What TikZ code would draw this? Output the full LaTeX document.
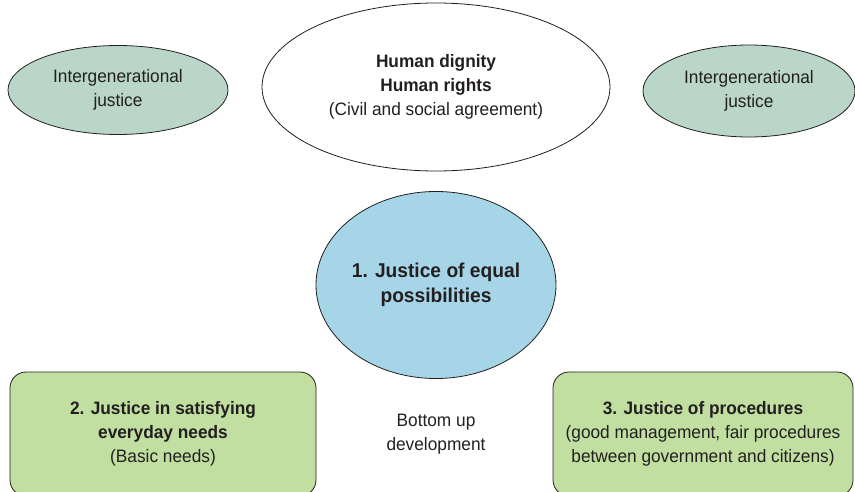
\documentclass[tikz,border=0pt]{standalone}
\usepackage{fontspec}
\setmainfont{Liberation Sans}[FakeStretch=0.96]
\usepackage{xcolor}
\usetikzlibrary{shapes.geometric}

\definecolor{sagegreen}{RGB}{186,214,200}
\definecolor{skyblue}{RGB}{166,213,232}
\definecolor{leafgreen}{RGB}{192,223,160}
\definecolor{inkgray}{RGB}{35,31,32}

\tikzset{
  oval/.style={ellipse, draw=inkgray, line width=0.8pt, inner sep=0pt, align=center, text=inkgray},
  greenbox/.style={rectangle, rounded corners=16pt, draw=inkgray, line width=0.8pt, fill=leafgreen,
    inner sep=0pt, align=center, text=inkgray},
}

\begin{document}
\begin{tikzpicture}[x=1pt, y=-1pt, font=\fontsize{18}{24}\selectfont, line join = round, line cap = round]

  \useasboundingbox (0,0) rectangle (855,492);
  \clip (0,0) rectangle (855,492);

  % ovals on top
  \node[oval, fill=sagegreen, minimum width=220, minimum height=89] (intergenL) at (118,90)
    {Intergenerational\\justice};
  \node[oval, fill=sagegreen, minimum width=212, minimum height=92] (intergenR) at (749,91)
    {Intergenerational\\justice};
  \node[oval, fill=white, minimum width=348, minimum height=168] (dignity) at (436,87)
    {\textbf{Human dignity}\\\textbf{Human rights}\\(Civil and social agreement)};

  % central circle
  \node[oval, fill=skyblue, minimum width=240, minimum height=187,
        font=\fontsize{20}{25}\selectfont] (equal) at (436,285)
    {\textbf{1. Justice of equal}\\\textbf{possibilities}};

  % bottom row
  \node[greenbox, minimum width=306, minimum height=124] (needs) at (163,434)
    {\textbf{2. Justice in satisfying}\\\textbf{everyday needs}\\(Basic needs)};
  \node[greenbox, minimum width=300, minimum height=124] (procedures) at (703,434)
    {\textbf{3. Justice of procedures}\\(good management, fair procedures\\between government and citizens)};
  \node[align=center, text=inkgray] (bottomup) at (436,434) {Bottom up\\development};

\end{tikzpicture}
\end{document}
